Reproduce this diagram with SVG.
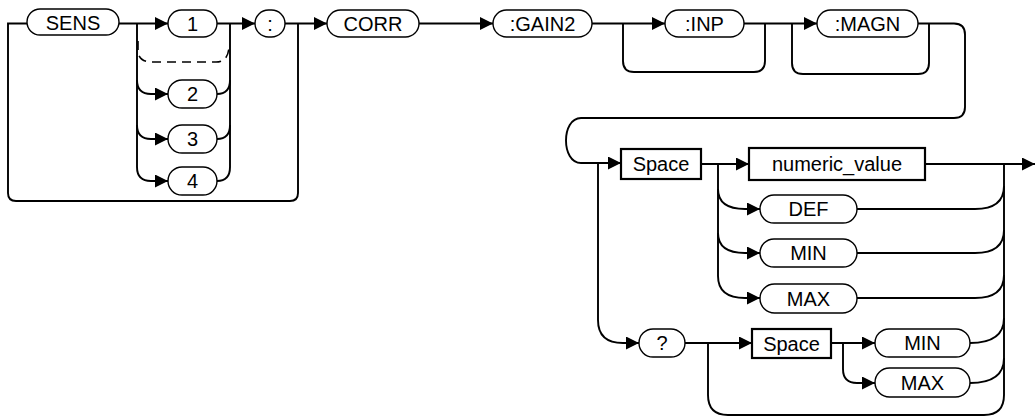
<svg xmlns="http://www.w3.org/2000/svg" width="1036" height="417" viewBox="0 0 1036 417">
<style>
.pill{fill:#fff;stroke:#000;stroke-width:1.4}
.box{fill:#fff;stroke:#000;stroke-width:2.2}
.ln{fill:none;stroke:#000;stroke-width:1.9}
.dash{fill:none;stroke:#000;stroke-width:1.6;stroke-dasharray:9 6}
text{font-family:"Liberation Sans",Arial,sans-serif;font-size:20px;fill:#000;text-anchor:middle}
</style>
<defs>
<marker id="arr" markerUnits="userSpaceOnUse" markerWidth="14" markerHeight="14" refX="13" refY="6.5" orient="auto">
<path d="M0,0 L13,6.5 L0,13 Z" fill="#000"/>
</marker>
</defs>
<g id="connectors">
<path class="ln" d="M27,23.5 H8 V193 Q8,201 16,201 H290 Q298,201 298,193 V23.5"/>
<path class="ln" d="M119,23.5 H168" marker-end="url(#arr)"/>
<path class="ln" d="M137,23.5 V167 Q137,181 151,181 H168" marker-end="url(#arr)"/>
<path class="ln" d="M137,80 Q137,94 151,94 H168" marker-end="url(#arr)"/>
<path class="ln" d="M137,125 Q137,139 151,139 H168" marker-end="url(#arr)"/>
<path class="dash" d="M138,41 V50 Q138,62 152,62 H216 Q229,62 229,45"/>
<path class="ln" d="M230,23.5 V167"/>
<path class="ln" d="M217,94 Q230,94 230,80"/>
<path class="ln" d="M217,139 Q230,139 230,125"/>
<path class="ln" d="M217,181 Q230,181 230,167"/>
<path class="ln" d="M217,23.5 H255" marker-end="url(#arr)"/>
<path class="ln" d="M285,23.5 H327" marker-end="url(#arr)"/>
<path class="ln" d="M419,23.5 H493" marker-end="url(#arr)"/>
<path class="ln" d="M592,23.5 H665" marker-end="url(#arr)"/>
<path class="ln" d="M623,23.5 V61 Q623,72 634,72 H754 Q765,72 765,61 V23.5"/>
<path class="ln" d="M744,23.5 H817" marker-end="url(#arr)"/>
<path class="ln" d="M792,23.5 V63 Q792,74 803,74 H918 Q929,74 929,63 V23.5"/>
<path class="ln" d="M918,23.5 H954 Q965,23.5 965,34.5 V107 Q965,118 954,118 H581 C561,118 561,163 581,163 H621" marker-end="url(#arr)"/>
<path class="ln" d="M598,163 V320 Q598,343 623,343 H639" marker-end="url(#arr)"/>
<path class="ln" d="M701,164 H749" marker-end="url(#arr)"/>
<path class="ln" d="M718,164 V276 Q718,298 745,298 H760" marker-end="url(#arr)"/>
<path class="ln" d="M718,189 Q718,209 745,209 H760" marker-end="url(#arr)"/>
<path class="ln" d="M718,233 Q718,253 745,253 H760" marker-end="url(#arr)"/>
<path class="ln" d="M925,164 H1035" marker-end="url(#arr)"/>
<path class="ln" d="M1004,164 V395 Q1004,415 984,415 H728 Q708,415 708,395 V343"/>
<path class="ln" d="M857,209 H975 Q1004,209 1004,186"/>
<path class="ln" d="M857,253 H975 Q1004,253 1004,230"/>
<path class="ln" d="M857,298 H975 Q1004,298 1004,275"/>
<path class="ln" d="M970,343 Q1004,343 1004,318"/>
<path class="ln" d="M970,383 Q1004,383 1004,358"/>
<path class="ln" d="M685,343 H752" marker-end="url(#arr)"/>
<path class="ln" d="M831,343 H875" marker-end="url(#arr)"/>
<path class="ln" d="M843,343 V369 Q843,383 857,383 H875" marker-end="url(#arr)"/>
</g>
<g id="n-sens"><rect class="pill" x="27" y="9" width="92" height="26" rx="13"/><text x="73" y="29.5">SENS</text></g>
<g id="n-1"><rect class="pill" x="168" y="10" width="49" height="27" rx="13.5"/><text x="192.5" y="30.5">1</text></g>
<g id="n-2"><rect class="pill" x="168" y="80" width="49" height="28" rx="14"/><text x="192.5" y="101">2</text></g>
<g id="n-3"><rect class="pill" x="168" y="125" width="49" height="28" rx="14"/><text x="192.5" y="146">3</text></g>
<g id="n-4"><rect class="pill" x="168" y="167" width="49" height="28" rx="14"/><text x="192.5" y="188">4</text></g>
<g id="n-colon"><rect class="pill" x="255" y="10" width="30" height="27" rx="13.5"/><text x="270" y="30.5">:</text></g>
<g id="n-corr"><rect class="pill" x="327" y="10" width="92" height="27" rx="13.5"/><text x="373" y="30.5">CORR</text></g>
<g id="n-gain2"><rect class="pill" x="493" y="10" width="99" height="27" rx="13.5"/><text x="542.5" y="30.5">:GAIN2</text></g>
<g id="n-inp"><rect class="pill" x="665" y="10" width="79" height="27" rx="13.5"/><text x="704.5" y="30.5">:INP</text></g>
<g id="n-magn"><rect class="pill" x="817" y="10" width="101" height="27" rx="13.5"/><text x="867.5" y="30.5">:MAGN</text></g>
<g id="n-space1"><rect class="box" x="621" y="149" width="80" height="30"/><text x="661" y="171">Space</text></g>
<g id="n-numeric"><rect class="box" x="749" y="148" width="176" height="32"/><text x="837" y="171">numeric_value</text></g>
<g id="n-def"><rect class="pill" x="760" y="195" width="97" height="28" rx="14"/><text x="808.5" y="216">DEF</text></g>
<g id="n-min1"><rect class="pill" x="760" y="239" width="97" height="28" rx="14"/><text x="808.5" y="260">MIN</text></g>
<g id="n-max1"><rect class="pill" x="760" y="284" width="97" height="29" rx="14.5"/><text x="808.5" y="305.5">MAX</text></g>
<g id="n-query"><rect class="pill" x="639" y="329" width="46" height="28" rx="14"/><text x="662" y="350">?</text></g>
<g id="n-space2"><rect class="box" x="752" y="329" width="79" height="29"/><text x="791.5" y="350.5">Space</text></g>
<g id="n-min2"><rect class="pill" x="875" y="329" width="95" height="28" rx="14"/><text x="922.5" y="350">MIN</text></g>
<g id="n-max2"><rect class="pill" x="875" y="368" width="95" height="29" rx="14.5"/><text x="922.5" y="389.5">MAX</text></g>
</svg>
